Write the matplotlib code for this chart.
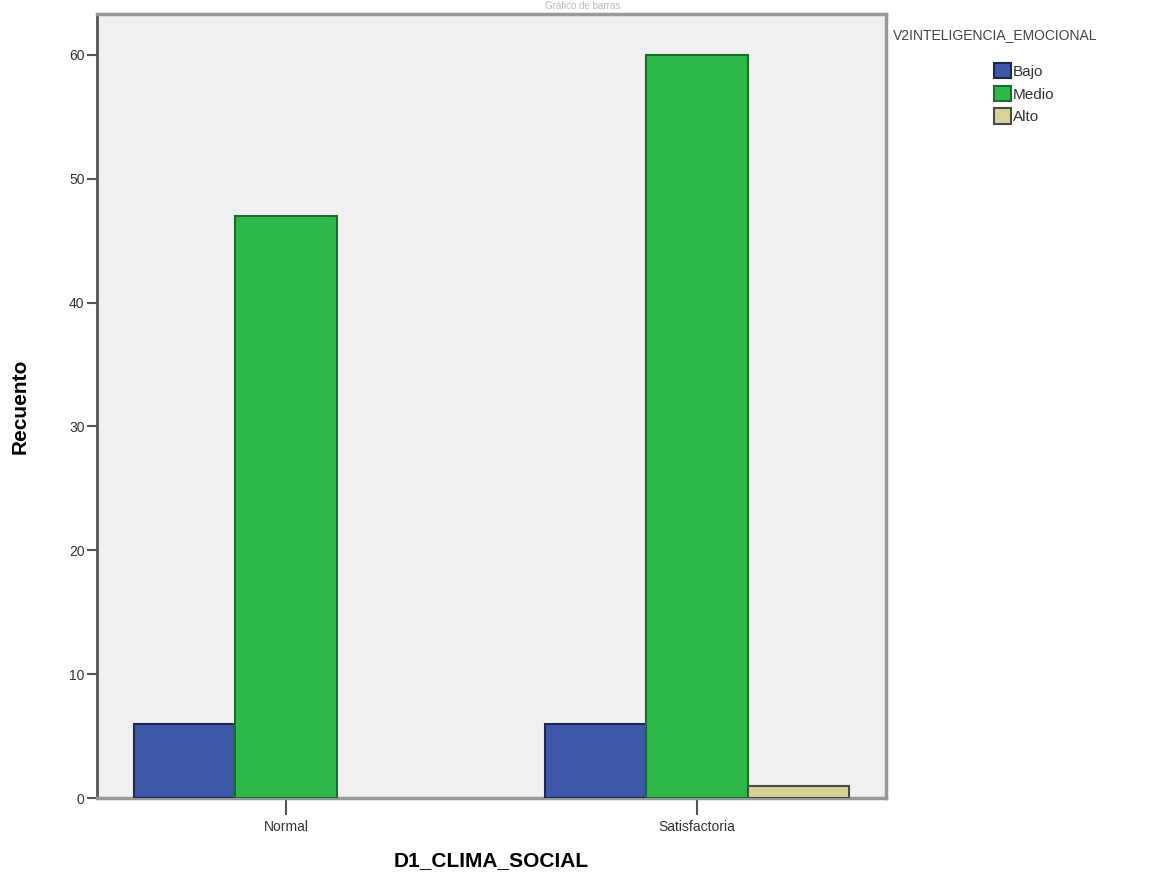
import numpy as np
import matplotlib.pyplot as plt
from matplotlib.patches import Patch

plt.rcParams['font.family'] = ['Liberation Sans', 'DejaVu Sans']

categories = ['Normal', 'Satisfactoria']
series = ['Bajo', 'Medio', 'Alto']
counts = {
    'Bajo': [6, 6],
    'Medio': [47, 60],
    'Alto': [0, 1],
}
fills = {'Bajo': '#3d57a9', 'Medio': '#2fb84a', 'Alto': '#d9d39b'}
edges = {'Bajo': '#1e2850', 'Medio': '#1a6e2c', 'Alto': '#4a4a40'}

fig = plt.figure(figsize=(11.66, 8.85), dpi=100)
ax = fig.add_axes([97 / 1166, 1 - 798 / 885, (886 - 97) / 1166, (798 - 14) / 885])
ax.set_facecolor('#f0f0f0')

x = np.arange(len(categories))
w = 0.246
for i, s in enumerate(series):
    vals = np.array(counts[s])
    mask = vals > 0
    ax.bar(x[mask] + (i - 1) * w, vals[mask], width=w, color=fills[s],
           edgecolor=edges[s], linewidth=1.5, zorder=3)

ax.set_xlim(-0.46, 1.46)
ax.set_ylim(0, 63.3)
ax.set_yticks(range(0, 61, 10))
ax.set_xticks(x)
ax.set_xticklabels(categories)

for side in ['top', 'right']:
    ax.spines[side].set_color('#999999')
    ax.spines[side].set_linewidth(2.5)
ax.spines['left'].set_color('#555555')
ax.spines['left'].set_linewidth(2)
ax.spines['bottom'].set_color('#999999')
ax.spines['bottom'].set_linewidth(2.5)

ax.tick_params(axis='y', length=7, width=1.5, color='#555555', labelsize=10,
               labelcolor='#333333', pad=2)
ax.tick_params(axis='x', length=12, width=1.5, color='#555555', labelsize=10,
               labelcolor='#333333', pad=4)

ax.set_ylabel('Recuento', fontsize=15, fontweight='bold', labelpad=28)
ax.set_xlabel('D1_CLIMA_SOCIAL', fontsize=15, fontweight='bold', labelpad=12)

fig.text(0.5, 1 - 1 / 885, 'Gráfico de barras', ha='center', va='top', fontsize=7,
         color='#bbbbbb')

# legend title, then entries indented below it
fig.text(893 / 1166, 1 - 35 / 885, 'V2INTELIGENCIA_EMOCIONAL', ha='left',
         va='center', fontsize=10, color='#444444')
handles = [Patch(facecolor=fills[s], edgecolor=edges[s], linewidth=1.5, label=s)
           for s in series]
leg = fig.legend(handles=handles, loc='upper left',
                 bbox_to_anchor=(983 / 1166, 1 - 52 / 885),
                 frameon=False, fontsize=11,
                 handlelength=1.1, handleheight=1.2, handletextpad=0.15,
                 labelspacing=0.45, borderpad=0.2)
for t in leg.get_texts():
    t.set_color('#333333')

fig.savefig('out.png', dpi=100)
